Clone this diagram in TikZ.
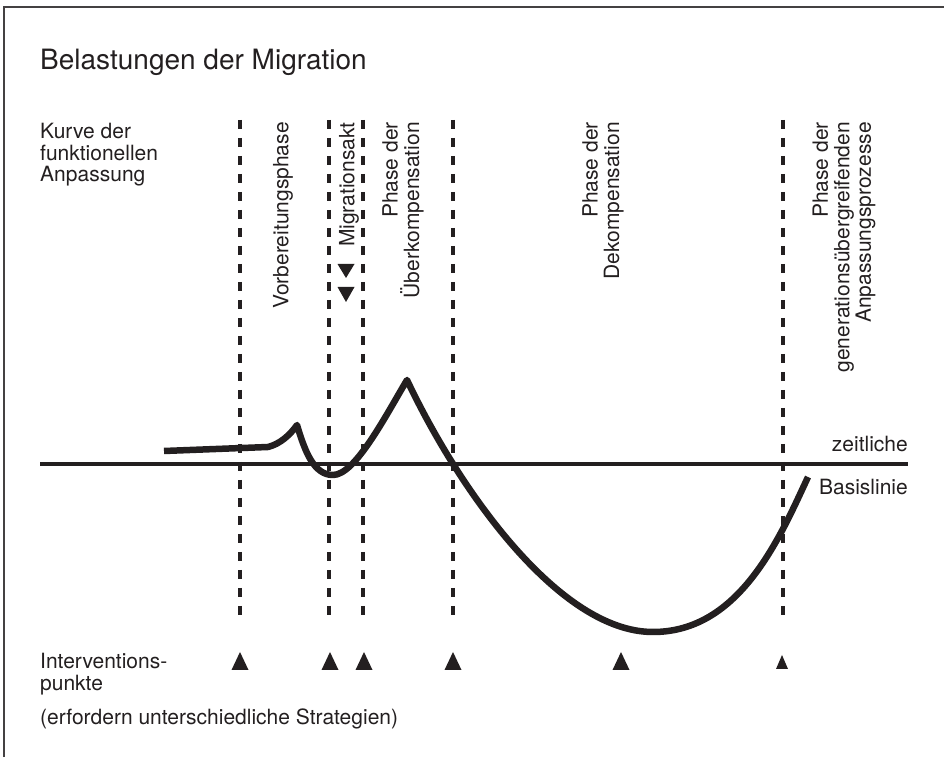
\documentclass[tikz,border=0pt]{standalone}
\usepackage{fontspec}
\setmainfont{TeX Gyre Heros}
\usepackage{tikz}
\usetikzlibrary{positioning}
\definecolor{inkc}{HTML}{231F20}
\tikzset{
  dl/.style={inkc,line width=3.4pt,dash pattern=on 9pt off 9pt},
  crv/.style={inkc,line width=6.5pt,line join=round},
  lbl/.style={inkc,font=\fontsize{21}{21.5}\selectfont,inner sep=0pt},
  vl/.style={lbl,rotate=90,anchor=east,align=right},
  tri/.style={fill=inkc}
}
\begin{document}
\begin{tikzpicture}[x=1pt,y=1pt]
\useasboundingbox (0,0) rectangle (944,757);
% frame
\draw[inkc!85,line width=1.6pt] (4,0) -- (4,750) -- (944,750);
\node[lbl,font=\fontsize{28}{30}\selectfont,anchor=base west] (title) at (40,687) {Belastungen der Migration};
\node[lbl,anchor=north west,align=left] (kurve) at (40,634) {Kurve der\\funktionellen\\Anpassung};
% phase borders
\foreach \x/\n in {240/p1,329/p2,363/p3,453/p4,783/p5}{
  \coordinate (\n t) at (\x,637);
  \coordinate (\n b) at (\x,135);
  \draw[dl] (\n t) -- (\n b);
}
\node[vl] (vorb) at (283,635) {Vorbereitungsphase};
\node[vl] (migr) at (349,635) {Migrationsakt};
\fill[tri] (337.5,493) -- (354.5,493) -- (346,479) -- cycle;
\fill[tri] (337.5,470) -- (354.5,470) -- (346,455) -- cycle;
\node[vl] (ueber) at (403,635) {Phase der\\Überkompensation};
\node[vl] (dekomp) at (603,635) {Phase der\\Dekompensation};
\node[vl] (gener) at (844,635) {Phase der\\generationsübergreifenden\\Anpassungsprozesse};
% baseline
\coordinate (bl0) at (40,293);
\coordinate (bl1) at (908,293);
\draw[inkc,line width=3.2pt] (bl0) -- (bl1);
\node[lbl,anchor=base east] (zeitl) at (908,305) {zeitliche};
\node[lbl,anchor=base east] (basis) at (908,262) {Basislinie};
% curve
\draw[crv] (164,306) -- (268,310) .. controls (280,313) and (290,322) .. (297,332)
  .. controls (305,305) and (314,282) .. (333,282)
  .. controls (355,282) and (385,340) .. (407,377)
  .. controls (460,265) and (560,125) .. (653,125)
  .. controls (740,125) and (780,220) .. (808,280);
% intervention points
\foreach \x in {240,330,364,453,621}
  \fill[tri] (\x-8.5,87) -- (\x+8.5,87) -- (\x,105) -- cycle;
\fill[tri] (776,88) -- (788,88) -- (782,102) -- cycle;
\node[lbl,anchor=north west,align=left] (interv) at (40,104) {Interventions-\\punkte};
\node[lbl,anchor=base west] (strat) at (40,33) {(erfordern unterschiedliche Strategien)};
\end{tikzpicture}
\end{document}
